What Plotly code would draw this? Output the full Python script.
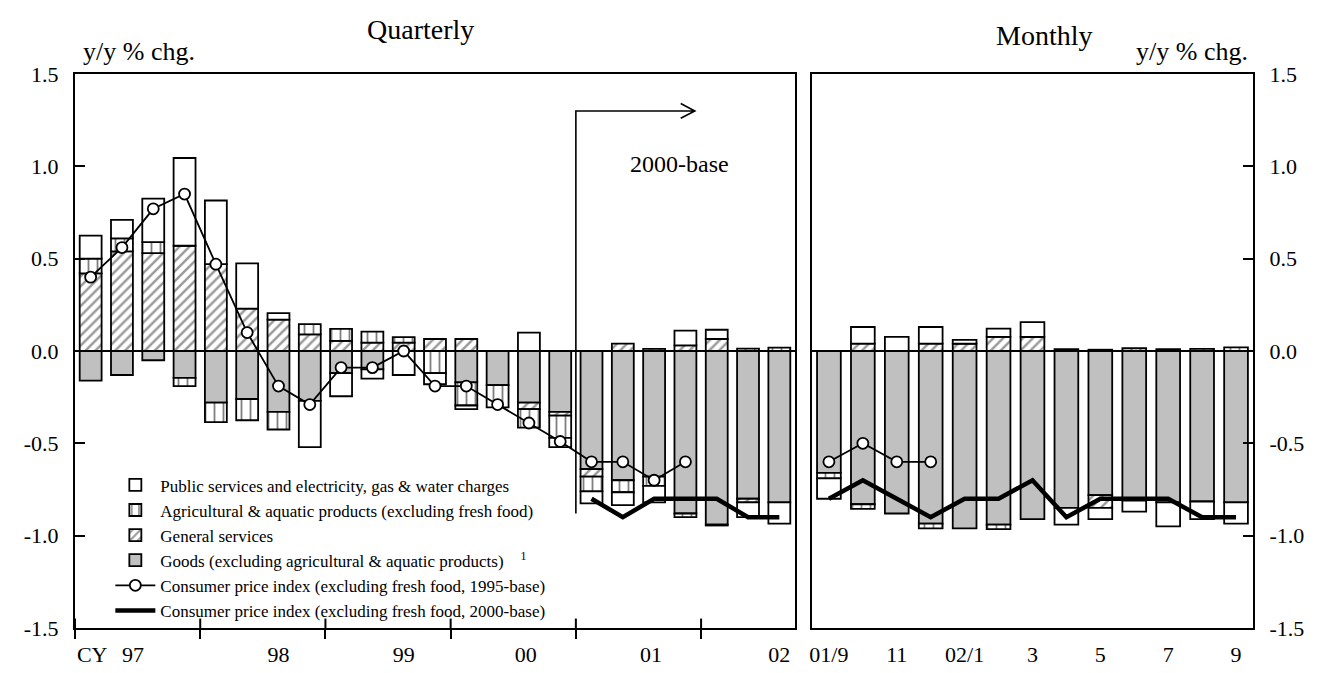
import plotly.graph_objects as go

# quarterly contributions, 97Q1 .. 02Q3
quarters = ["97Q1", "97Q2", "97Q3", "97Q4", "98Q1", "98Q2", "98Q3", "98Q4",
            "99Q1", "99Q2", "99Q3", "99Q4", "00Q1", "00Q2", "00Q3", "00Q4",
            "01Q1", "01Q2", "01Q3", "01Q4", "02Q1", "02Q2", "02Q3"]
goods_q = [-0.16, -0.13, -0.05, -0.145, -0.28, -0.26, -0.33, -0.27, -0.12, -0.10, 0, 0,
           -0.17, -0.185, -0.28, -0.33, -0.64, -0.70, -0.68, -0.88, -0.94, -0.80, -0.82]
general_q = [0.42, 0.54, 0.53, 0.57, 0.47, 0.23, 0.17, 0.09, 0.055, 0.045, 0.045, 0.065,
             0.065, 0, -0.035, -0.02, -0.04, 0.04, 0.012, 0.03, 0.065, -0.02, 0]
agri_q = [0.08, 0.07, 0.06, -0.045, -0.105, -0.115, -0.095, 0.055, 0.065, 0.06, 0.03, -0.12,
          -0.125, -0.12, -0.10, -0.12, -0.08, -0.065, -0.05, -0.02, -0.005, 0.013, 0.018]
public_q = [0.125, 0.10, 0.235, 0.475, 0.345, 0.245, 0.035, -0.25, -0.125, -0.05, -0.13, -0.06,
            -0.02, 0, 0.10, -0.05, -0.065, -0.07, -0.09, 0.08, 0.05, -0.08, -0.115]
cpi95_q = [0.4, 0.56, 0.77, 0.85, 0.47, 0.1, -0.19, -0.29, -0.09, -0.09, 0.0, -0.19,
           -0.19, -0.29, -0.39, -0.49, -0.6, -0.6, -0.7, -0.6]
cpi00_q = [-0.8, -0.9, -0.8, -0.8, -0.8, -0.9, -0.9]  # from 01Q1

# monthly contributions, 01/9 .. 02/9
months = ["01/9", "01/10", "01/11", "01/12", "02/1", "02/2", "02/3",
          "02/4", "02/5", "02/6", "02/7", "02/8", "02/9"]
goods_m = [-0.66, -0.83, -0.88, -0.935, -0.96, -0.94, -0.91, -0.85, -0.78, -0.81, -0.82, -0.815, -0.82]
general_m = [0, 0.04, 0, 0.04, 0.04, 0.076, 0.076, 0, -0.07, 0, 0, 0, 0]
agri_m = [-0.03, -0.025, 0, -0.025, 0, -0.025, 0, 0.01, 0.007, 0.015, 0.01, 0.012, 0.02]
public_m = [-0.11, 0.09, 0.076, 0.09, 0.02, 0.045, 0.08, -0.09, -0.06, -0.06, -0.13, -0.095, -0.115]
cpi95_m = [-0.6, -0.5, -0.6, -0.6]
cpi00_m = [-0.8, -0.7, -0.8, -0.9, -0.8, -0.8, -0.7, -0.9, -0.8, -0.8, -0.8, -0.9, -0.9]

# axis labels
y_ticks = [-1.5, -1.0, -0.5, 0.0, 0.5, 1.0, 1.5]
y_labels = ["-1.5", "-1.0", "-0.5", "0.0", "0.5", "1.0", "1.5"]
q_labels = ["CY", "97", "98", "99", "00", "01", "02"]
q_label_pos = [0.05, 1.35, 6.0, 10.0, 13.9, 17.9, 22.0]
q_bounds = [-0.5, 3.5, 7.5, 11.5, 15.5, 19.5]
m_labels = ["01/9", "11", "02/1", "3", "5", "7", "9"]
m_label_pos = [0, 2, 4, 6, 8, 10, 12]

FONT = "Liberation Serif"
OUTLINE = dict(color="black", width=1.8)

series = [
    ("Goods (excluding agricultural & aquatic products)    <sup>1</sup>", goods_q, goods_m,
     dict(color="#c0c0c0", line=OUTLINE), 4),
    ("General services", general_q, general_m,
     dict(color="white", line=OUTLINE,
          pattern=dict(shape="/", fgcolor="#333333", bgcolor="white", size=7, solidity=0.35)), 3),
    ("Agricultural & aquatic products (excluding fresh food)", agri_q, agri_m,
     dict(color="white", line=OUTLINE,
          pattern=dict(shape="|", fgcolor="black", bgcolor="white", size=9, solidity=0.2)), 2),
    ("Public services and electricity, gas & water charges", public_q, public_m,
     dict(color="white", line=OUTLINE), 1),
]

xq = list(range(len(quarters)))
xm = list(range(len(months)))

fig = go.Figure()
for name, vq, vm, marker, rank in series:
    fig.add_trace(go.Bar(x=xq, y=vq, name=name, marker=marker, legendrank=rank,
                         xaxis="x", yaxis="y", width=0.7))
    fig.add_trace(go.Bar(x=xm, y=vm, name=name, marker=marker, showlegend=False,
                         xaxis="x2", yaxis="y2", width=0.7))

circle = dict(symbol="circle", size=11, color="white", line=dict(color="black", width=1.8))
fig.add_trace(go.Scatter(x=xq[:len(cpi95_q)], y=cpi95_q, mode="lines+markers",
                         name="Consumer price index (excluding fresh food, 1995-base)",
                         line=dict(color="black", width=1.8), marker=circle, legendrank=5,
                         xaxis="x", yaxis="y"))
fig.add_trace(go.Scatter(x=xq[16:], y=cpi00_q, mode="lines",
                         name="Consumer price index (excluding fresh food, 2000-base)",
                         line=dict(color="black", width=4.5), legendrank=6,
                         xaxis="x", yaxis="y"))
fig.add_trace(go.Scatter(x=xm[:len(cpi95_m)], y=cpi95_m, mode="lines+markers", showlegend=False,
                         line=dict(color="black", width=1.8), marker=circle,
                         xaxis="x2", yaxis="y2"))
fig.add_trace(go.Scatter(x=xm, y=cpi00_m, mode="lines", showlegend=False,
                         line=dict(color="black", width=4.5), xaxis="x2", yaxis="y2"))

axis_common = dict(showline=True, linecolor="black", linewidth=2, mirror=True,
                   showgrid=False, zeroline=False, ticks="", automargin=False)
yaxis_common = dict(range=[-1.5, 1.5], tickmode="array", tickvals=y_ticks, ticktext=y_labels,
                    ticks="inside", ticklen=10, tickwidth=2, tickcolor="black",
                    showline=True, linecolor="black", linewidth=2, mirror=True,
                    showgrid=False, zeroline=True, zerolinecolor="black", zerolinewidth=1.8,
                    tickfont=dict(size=22), ticklabelstandoff=10, automargin=False)

# the page body adds an 8px offset, so the figure is sized to land the plot area
# on the same pixels as the reference
fig.update_layout(
    width=1310, height=665,
    margin=dict(l=67, r=65, t=66, b=45),
    paper_bgcolor="white", plot_bgcolor="white",
    font=dict(family=FONT, color="black", size=22),
    barmode="relative",
    xaxis=dict(domain=[0, 0.6112], range=[-0.5, 22.5], anchor="y",
               tickmode="array", tickvals=q_label_pos, ticktext=q_labels,
               ticklabelstandoff=6,
               minor=dict(tickmode="array", tickvals=q_bounds, ticks="outside",
                          ticklen=9, tickwidth=2, tickcolor="black"),
               **axis_common),
    xaxis2=dict(domain=[0.6256, 1], range=[-0.5, 12.5], anchor="y2",
                tickmode="array", tickvals=m_label_pos, ticktext=m_labels,
                ticklabelstandoff=6, **axis_common),
    yaxis=dict(anchor="x", side="left", **yaxis_common),
    yaxis2=dict(anchor="x2", side="right", **yaxis_common),
    legend=dict(x=0.03, y=0.29, xanchor="left", yanchor="top",
                bgcolor="rgba(0,0,0,0)", font=dict(size=17), tracegroupgap=0,
                itemwidth=40),
    showlegend=True,
)

# year ticks cross the axis: the inner half of each tick
for b in q_bounds:
    fig.add_shape(type="line", xref="x", yref="y domain", x0=b, x1=b, y0=0, y1=0.017,
                  line=dict(color="black", width=2))

# 2000-base marker: vertical divider with arrow
fig.add_shape(type="path", xref="x", yref="y",
              path="M 15.5 -0.88 L 15.5 1.3 L 19.3 1.3 M 18.85 1.34 L 19.3 1.3 L 18.85 1.26",
              line=dict(color="black", width=1.6))
fig.add_annotation(x=18.8, y=1.01, xref="x", yref="y", text="2000-base", showarrow=False,
                   font=dict(size=24))

fig.add_annotation(x=0.293, y=1.08, xref="paper", yref="paper", text="Quarterly",
                   showarrow=False, xanchor="center", yanchor="middle", font=dict(size=28))
fig.add_annotation(x=0.823, y=1.07, xref="paper", yref="paper", text="Monthly",
                   showarrow=False, xanchor="center", yanchor="middle", font=dict(size=28))
fig.add_annotation(x=0.005, y=1.04, xref="paper", yref="paper", text="y/y % chg.",
                   showarrow=False, xanchor="left", yanchor="middle", font=dict(size=26))
fig.add_annotation(x=0.9975, y=1.04, xref="paper", yref="paper", text="y/y % chg.",
                   showarrow=False, xanchor="right", yanchor="middle", font=dict(size=26))

fig.write_html("out.html")
